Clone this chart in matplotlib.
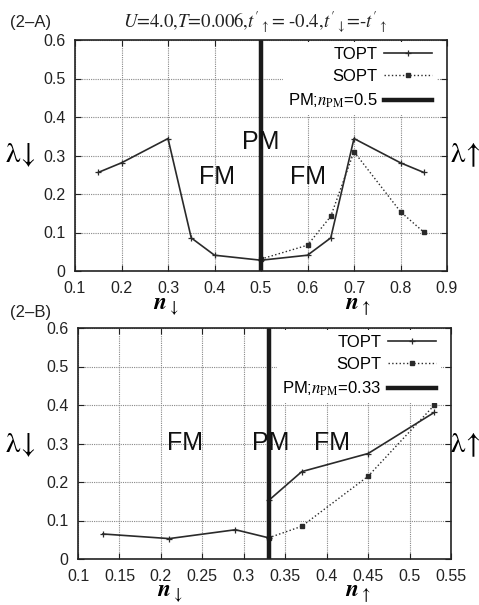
import matplotlib
matplotlib.use("Agg")
import matplotlib.pyplot as plt

plt.rcParams['font.family'] = ['Liberation Sans', 'DejaVu Sans']
plt.rcParams['mathtext.fontset'] = 'stix'

# Panel A data
a_topt_x = [0.15, 0.2, 0.3, 0.35, 0.4, 0.5, 0.6, 0.65, 0.7, 0.8, 0.85]
a_topt_y = [0.256, 0.281, 0.344, 0.086, 0.041, 0.028, 0.041, 0.086, 0.344, 0.281, 0.256]
a_sopt_x = [0.5, 0.6, 0.65, 0.7, 0.8, 0.85]
a_sopt_y = [0.031, 0.067, 0.142, 0.31, 0.154, 0.101]
a_npm = 0.5
a_xticks = [0.1, 0.2, 0.3, 0.4, 0.5, 0.6, 0.7, 0.8, 0.9]

# Panel B data
b_topt_x = [0.13, 0.21, 0.29, 0.33, 0.33, 0.37, 0.45, 0.53]
b_topt_y = [0.065, 0.053, 0.076, 0.055, 0.152, 0.227, 0.274, 0.381]
b_sopt_x = [0.33, 0.37, 0.45, 0.53]
b_sopt_y = [0.055, 0.085, 0.215, 0.400]
b_npm = 0.33
b_xticks = [0.1, 0.15, 0.2, 0.25, 0.3, 0.35, 0.4, 0.45, 0.5, 0.55]

yticks = [0, 0.1, 0.2, 0.3, 0.4, 0.5, 0.6]

W, H = 479, 605
fig = plt.figure(figsize=(W / 100, H / 100), dpi=100)

def px_axes(l, t, r, b):
    return fig.add_axes([l / W, 1 - b / H, (r - l) / W, (b - t) / H])

axA = px_axes(75, 40, 447, 271)
axB = px_axes(78, 328, 451, 559)

def fmt(v):
    return '%g' % v

def style(ax, xticks, npm, tx, ty, sx, sy, labels_pos):
    ax.set_axisbelow(True)
    ax.grid(True, color='#888888', linestyle=(0, (1, 1)), linewidth=0.8)
    ax.plot(tx, ty, '-', color='#2a2a2a', lw=1.2, marker='+', ms=4, mew=0.9, label='TOPT')
    ax.plot(sx, sy, ':', color='#2a2a2a', lw=1.0, marker='s', ms=3, label='SOPT')
    ax.axvline(npm, color='#1a1a1a', lw=3.2, label=r'PM;$n_{\mathrm{PM}}$=' + fmt(npm))
    ax.set_xlim(xticks[0], xticks[-1])
    ax.set_ylim(0, 0.6)
    ax.set_xticks(xticks)
    ax.set_xticklabels([fmt(v) for v in xticks])
    ax.set_yticks(yticks)
    ax.set_yticklabels([fmt(v) for v in yticks])
    ax.tick_params(direction='in', top=True, right=True, length=4, labelsize=11.5, pad=7, colors='#222222')
    for s in ax.spines.values():
        s.set_linewidth(1.2)
        s.set_color('#222222')
    leg = ax.legend(loc='upper right', bbox_to_anchor=(1 - 8 / 372, 1), markerfirst=False,
                    frameon=True, fontsize=12,
                    handlelength=2.9, handletextpad=0.4, labelspacing=0.45,
                    borderaxespad=0.1, borderpad=0.3)
    leg.get_frame().set_facecolor('white')
    leg.get_frame().set_edgecolor('none')
    leg.get_frame().set_alpha(1)
    for txt, x, y in labels_pos:
        ax.text(x, y, txt, fontsize=18, ha='center', va='center', color='#111111')

style(axA, a_xticks, a_npm, a_topt_x, a_topt_y, a_sopt_x, a_sopt_y,
      [('PM', 0.5, 0.335), ('FM', 0.405, 0.244), ('FM', 0.6, 0.244)])
style(axB, b_xticks, b_npm, b_topt_x, b_topt_y, b_sopt_x, b_sopt_y,
      [('FM', 0.229, 0.3), ('PM', 0.332, 0.3), ('FM', 0.406, 0.3)])

def ftext(x, y, s, **kw):
    fig.text(x / W, 1 - y / H, s, **kw)

ftext(10, 22, '(2\u2013A)', fontsize=12, ha='left', va='center', color='#222222')
ftext(10, 312, '(2\u2013B)', fontsize=12, ha='left', va='center', color='#222222')
ftext(255, 22, r"$U$=4.0,$T$=0.006,$t^{\prime}{}_{\uparrow}$= -0.4,$t^{\prime}{}_{\downarrow}$=-$t^{\prime}{}_{\uparrow}$",
      fontsize=13.5, ha='center', va='center', family='STIXGeneral', color='#222222')

for yc in (155, 445):
    ftext(20, yc, r'$\mathrm{\lambda}\!\downarrow$', fontsize=21, ha='center', va='center')
    ftext(465, yc, r'$\mathrm{\lambda}\!\uparrow$', fontsize=21, ha='center', va='center')

for yb, xl in ((310, 166), (597, 170)):
    ftext(xl, yb, r'$\mathbfit{n}_{\downarrow}$', fontsize=17, ha='center', va='baseline')
    ftext(358, yb, r'$\mathbfit{n}_{\uparrow}$', fontsize=17, ha='center', va='baseline')

fig.savefig('out.png', dpi=100)
